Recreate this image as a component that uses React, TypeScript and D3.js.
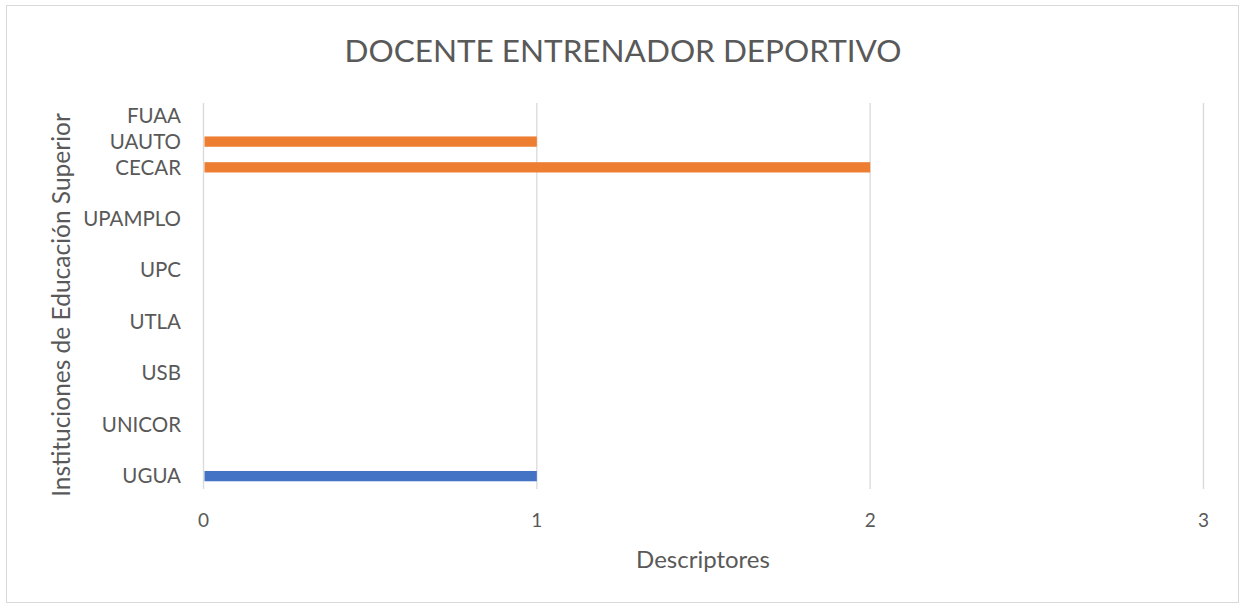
import { useRef, useEffect } from 'react';
import * as d3 from 'd3';

// categories bottom -> top, blank rows keep their slot on the axis
const categories = ['UGUA', '', 'UNICOR', '', 'USB', '', 'UTLA', '', 'UPC', '', 'UPAMPLO', '', 'CECAR', 'UAUTO', 'FUAA'];
const serieAzul = [1, 0, 0, 0, 0, 0, 0, 0, 0, 0, 0, 0, 0, 0, 0];
const serieNaranja = [0, 0, 0, 0, 0, 0, 0, 0, 0, 0, 0, 0, 2, 1, 0];
const xTicks = [0, 1, 2, 3];

const W = 1244;
const H = 604;
const FONT = 'Lato, "Open Sans", sans-serif';

function App() {
    const ref = useRef(null);

    useEffect(() => {
        const svg = d3.select(ref.current);
        svg.selectAll('*').remove();

        svg.append('rect')
            .attr('x', 6.5).attr('y', 5.5)
            .attr('width', 1232).attr('height', 597)
            .attr('fill', '#fff')
            .attr('stroke', '#d9d9d9');

        const x = d3.scaleLinear().domain([0, 3]).range([203.5, 1203.5]);
        const y = d3.scaleBand()
            .domain(d3.range(categories.length).map(String))
            .range([489, 103])
            .paddingInner(0.6)
            .paddingOuter(0.3);

        const g = svg.append('g');

        g.selectAll('line.grid')
            .data(xTicks)
            .enter()
            .append('line')
            .attr('x1', d => x(d)).attr('x2', d => x(d))
            .attr('y1', 103).attr('y2', 489)
            .attr('stroke', '#d9d9d9')
            .attr('stroke-width', 1.3);

        const series = [
            { values: serieAzul, color: '#4472C4' },
            { values: serieNaranja, color: '#ED7D31' },
        ];
        series.forEach(s => {
            g.selectAll(null)
                .data(s.values.map((v, i) => ({ v, i })).filter(d => d.v > 0))
                .enter()
                .append('rect')
                .attr('x', x(0) + 1)
                .attr('y', d => y(String(d.i)))
                .attr('width', d => x(d.v) - x(0) - 1)
                .attr('height', y.bandwidth())
                .attr('fill', s.color);
        });

        g.selectAll('text.cat')
            .data(categories)
            .enter()
            .append('text')
            .attr('x', 181)
            .attr('y', (d, i) => y(String(i)) + y.bandwidth() / 2)
            .attr('dy', '0.35em')
            .attr('text-anchor', 'end')
            .style('font-family', FONT)
            .style('font-size', '20.5px')
            .style('fill', '#595959')
            .text(d => d);

        g.selectAll('text.tick')
            .data(xTicks)
            .enter()
            .append('text')
            .attr('x', d => x(d))
            .attr('y', 520)
            .attr('dy', '0.35em')
            .attr('text-anchor', 'middle')
            .style('font-family', FONT)
            .style('font-size', '19px')
            .style('fill', '#595959')
            .text(d => d);

        svg.append('text')
            .attr('x', 623).attr('y', 51)
            .attr('dy', '0.35em')
            .attr('text-anchor', 'middle')
            .style('font-family', FONT)
            .style('font-size', '31.5px')
            .style('fill', '#595959')
            .text('DOCENTE ENTRENADOR DEPORTIVO');

        svg.append('text')
            .attr('x', 703).attr('y', 560)
            .attr('dy', '0.35em')
            .attr('text-anchor', 'middle')
            .style('font-family', FONT)
            .style('font-size', '24px')
            .style('fill', '#595959')
            .text('Descriptores');

        svg.append('text')
            .attr('transform', 'translate(61, 305) rotate(-90)')
            .attr('dy', '0.35em')
            .attr('text-anchor', 'middle')
            .style('font-family', FONT)
            .style('font-size', '24.5px')
            .style('fill', '#595959')
            .text('Instituciones de Educación Superior');
    }, []);

    return <svg ref={ref} width={W} height={H} style={{ position: 'absolute', left: 0, top: 0 }} />;
}

export default App;
